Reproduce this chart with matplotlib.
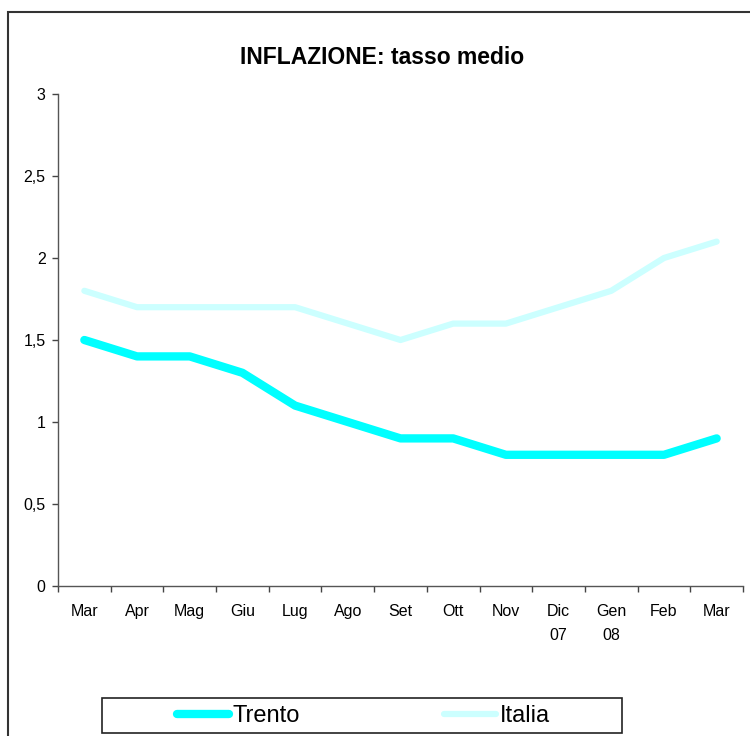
import matplotlib
matplotlib.use("Agg")
import matplotlib.pyplot as plt
from matplotlib.patches import Rectangle
from matplotlib.lines import Line2D

months = ["Mar", "Apr", "Mag", "Giu", "Lug", "Ago", "Set", "Ott", "Nov", "Dic\n07", "Gen\n08", "Feb", "Mar"]
trento = [1.5, 1.4, 1.4, 1.3, 1.1, 1.0, 0.9, 0.9, 0.8, 0.8, 0.8, 0.8, 0.9]
italia = [1.8, 1.7, 1.7, 1.7, 1.7, 1.6, 1.5, 1.6, 1.6, 1.7, 1.8, 2.0, 2.1]
yticks = [0, 0.5, 1, 1.5, 2, 2.5, 3]
ylabels = ["0", "0,5", "1", "1,5", "2", "2,5", "3"]

plt.rcParams['font.family'] = ['Liberation Sans', 'DejaVu Sans']

W, H = 750, 736
fig = plt.figure(figsize=(W / 100, H / 100), dpi=100)
fig.patch.set_facecolor("white")

# outer border
fig.add_artist(Rectangle((8 / W, -0.05), 1.2, 1 - 12 / H + 0.05, transform=fig.transFigure,
                         fill=False, edgecolor="#333333", linewidth=1.5))

ax = fig.add_axes([58 / W, 1 - 586 / H, (743 - 58) / W, (586 - 94) / H])
x = list(range(len(months)))
ax.plot(x, italia, color="#CCFFFF", linewidth=4.5, solid_capstyle="round", solid_joinstyle="round", label="Italia", zorder=2)
ax.plot(x, trento, color="#00FFFF", linewidth=6, solid_capstyle="round", solid_joinstyle="round", label="Trento", zorder=3)

ax.set_xlim(-0.5, len(months) - 0.5)
ax.set_ylim(0, 3)
ax.set_yticks(yticks)
ax.set_yticklabels(ylabels, fontsize=11.5)
ax.set_xticks(x)
ax.set_xticklabels(months, fontsize=11.5, linespacing=1.75)
ax.set_xticks([i - 0.5 for i in range(len(months) + 1)], minor=True)
ax.tick_params(axis="x", which="major", length=0, pad=13)
ax.tick_params(axis="x", which="minor", length=4, color="#444444", width=1)
ax.tick_params(axis="y", length=4, color="#444444", width=1, pad=5)
for s in ["top", "right"]:
    ax.spines[s].set_visible(False)
for s in ["left", "bottom"]:
    ax.spines[s].set_color("#555555")
    ax.spines[s].set_linewidth(1)

fig.text(382 / W, 1 - 58 / H, "INFLAZIONE: tasso medio", ha="center", va="center",
         fontsize=16.5, fontweight="bold")

# legend frame
fig.add_artist(Rectangle((102 / W, 1 - 733 / H), 520 / W, 35 / H, transform=fig.transFigure,
                         fill=False, edgecolor="#222222", linewidth=1.2))
handles = [Line2D([], [], color="#00FFFF", linewidth=6, solid_capstyle="round"),
           Line2D([], [], color="#CCFFFF", linewidth=4.5, solid_capstyle="round")]
leg = fig.legend(handles, ["Trento", "Italia"], loc="center left", ncol=2,
                 bbox_to_anchor=(177 / W, 1 - 716 / H), fontsize=17,
                 frameon=False, handlelength=2.2, handletextpad=0.17, columnspacing=6.1,
                 borderpad=0, borderaxespad=0)

fig.savefig("out.png", dpi=100, facecolor="white")
